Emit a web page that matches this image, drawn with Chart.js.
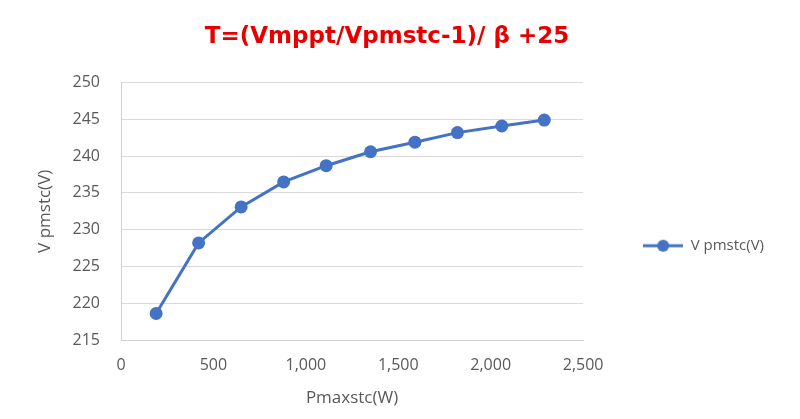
<!DOCTYPE html>
<html>
<head>
<meta charset="utf-8">
<script src="https://cdn.jsdelivr.net/npm/chart.js@4"></script>
<style>
	body { margin: 0; background: #ffffff; }
	canvas { display: block; }
</style>
</head>
<body>
<canvas id="chart" width="800" height="419"></canvas>
<script>
// data
const pmaxValues  = [190, 420, 650, 880, 1110, 1350, 1590, 1820, 2060, 2290];
const vpmstcValues = [218.6, 228.2, 233.1, 236.5, 238.7, 240.6, 241.9, 243.2, 244.1, 244.9];
const seriesLabel = 'V pmstc(V)';
const chartTitle  = 'T=(Vmppt/Vpmstc-1)/ β +25';
const xTitle      = 'Pmaxstc(W)';
const yTitle      = 'V pmstc(V)';

const clrLine  = '#4472c4';
const clrText  = '#595959';
const clrGrid  = '#d9d9d9';
const tickFont = { family: 'Open Sans', size: 16 };

// legend marker: short line with a dot, like the spreadsheet legend
function make_legend_marker()
{
	const c = document.createElement('canvas');
	c.width = 40;
	c.height = 14;
	const g = c.getContext('2d');
	g.strokeStyle = clrLine;
	g.lineWidth = 3;
	g.beginPath();
	g.moveTo(0, 7);
	g.lineTo(40, 7);
	g.stroke();
	g.fillStyle = clrLine;
	g.beginPath();
	g.arc(20, 7, 6, 0, Math.PI * 2);
	g.fill();
	return c;
}

const points = [];
for(let i = 0; i < pmaxValues.length; ++i) {
	points.push({ x: pmaxValues[i], y: vpmstcValues[i] });
}

const legendMarker = make_legend_marker();

const chart = new Chart('chart', {
	type: 'line',
	data: {
		datasets: [{
			label: seriesLabel,
			data: points,
			borderColor: clrLine,
			backgroundColor: clrLine,
			borderWidth: 3,
			pointRadius: 6.5,
			pointHoverRadius: 6.5,
			pointBorderWidth: 0,
			tension: 0
		}]
	},
	options: {
		responsive: false,
		animation: false,
		layout: {
			padding: { left: 0, right: 26, top: 0, bottom: 0 }
		},
		scales: {
			x: {
				type: 'linear',
				min: 0,
				max: 2500,
				ticks: {
					stepSize: 500,
					color: clrText,
					font: tickFont,
					padding: 16,
					callback: function(v) { return v.toLocaleString('en-US'); }
				},
				grid: { display: false, drawTicks: false },
				border: { display: true, color: '#d0d0d0', width: 1 },
				title: {
					display: true,
					text: xTitle,
					color: clrText,
					font: { family: 'Open Sans', size: 17 },
					padding: { top: 0, bottom: 11 }
				},
				afterFit: function(scale) { scale.height = 79; }
			},
			y: {
				type: 'linear',
				min: 215,
				max: 250,
				ticks: {
					stepSize: 5,
					color: clrText,
					font: tickFont,
					padding: 21
				},
				grid: { color: clrGrid, lineWidth: 1, drawTicks: false },
				border: { display: true, color: '#d0d0d0', width: 1 },
				title: {
					display: true,
					text: yTitle,
					color: clrText,
					font: { family: 'Open Sans', size: 17 },
					padding: { top: 35, bottom: 0 }
				},
				afterFit: function(scale) { scale.width = 121; }
			}
		},
		plugins: {
			title: {
				display: true,
				text: chartTitle,
				color: '#e60000',
				font: { family: 'DejaVu Sans', size: 23, weight: 'bold' },
				padding: { top: 23, bottom: 32 }
			},
			legend: {
				display: true,
				position: 'right',
				title: {
					display: true,
					text: ' ',
					font: { size: 12 },
					padding: { top: 29, bottom: 29 }
				},
				labels: {
					color: clrText,
					font: { family: 'Open Sans', size: 15 },
					usePointStyle: true,
					pointStyleWidth: 40,
					padding: 60,
					generateLabels: function(c) {
						return [{
							text: seriesLabel,
							pointStyle: legendMarker,
							fillStyle: clrLine,
							strokeStyle: clrLine,
							lineWidth: 0,
							datasetIndex: 0,
							fontColor: clrText
						}];
					}
				}
			},
			tooltip: { enabled: false }
		}
	}
});
</script>
</body>
</html>
